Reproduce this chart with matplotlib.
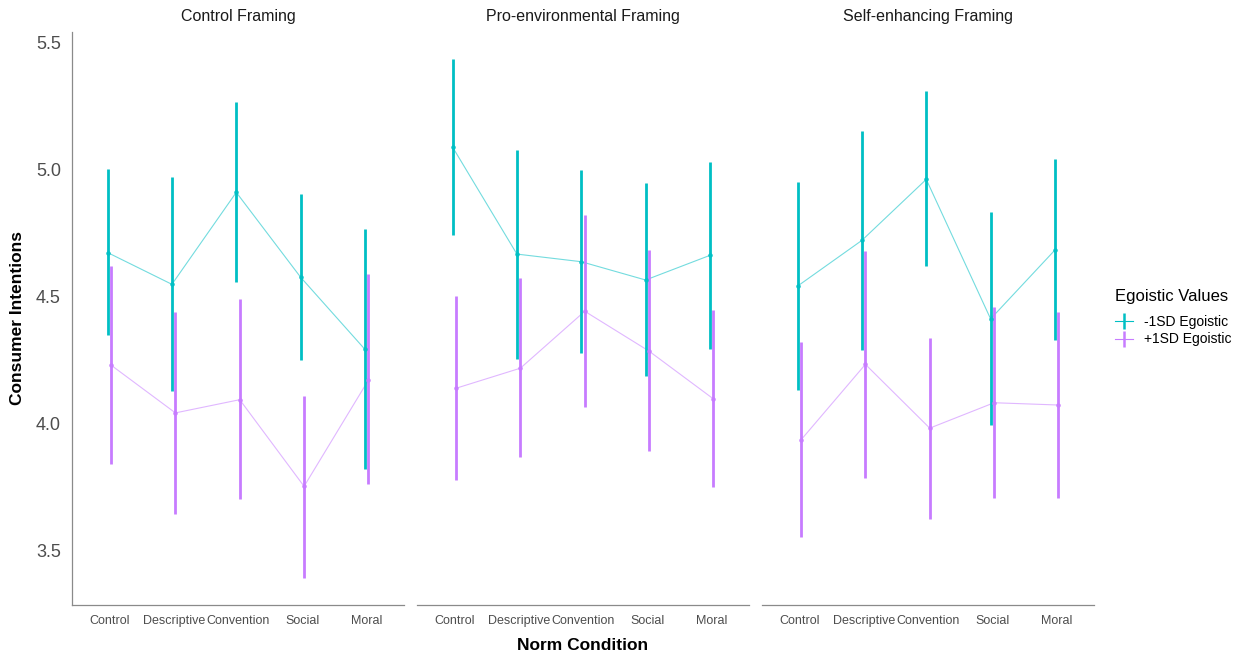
import matplotlib
matplotlib.use("Agg")
import matplotlib.pyplot as plt
from matplotlib.lines import Line2D
import numpy as np

plt.rcParams['font.family'] = ['Liberation Sans', 'DejaVu Sans']

framings = ["Control Framing", "Pro-environmental Framing", "Self-enhancing Framing"]
norms = ["Control", "Descriptive", "Convention", "Social", "Moral"]
groups = ["-1SD Egoistic", "+1SD Egoistic"]
colors = ["#00BFC4", "#C77CFF"]

# -1SD Egoistic: mean, lower, upper per framing
low_mean = [[4.673, 4.548, 4.910, 4.576, 4.292],
            [5.088, 4.667, 4.637, 4.565, 4.662],
            [4.541, 4.721, 4.961, 4.412, 4.683]]
low_lo = [[4.347, 4.128, 4.557, 4.250, 3.822],
          [4.741, 4.256, 4.278, 4.188, 4.293],
          [4.132, 4.290, 4.619, 3.993, 4.327]]
low_hi = [[5.003, 4.971, 5.266, 4.904, 4.764],
          [5.435, 5.077, 4.996, 4.945, 5.029],
          [4.950, 5.152, 5.310, 4.832, 5.043]]

# +1SD Egoistic
high_mean = [[4.230, 4.042, 4.094, 3.753, 4.171],
             [4.139, 4.218, 4.442, 4.285, 4.097],
             [3.936, 4.233, 3.982, 4.082, 4.073]]
high_lo = [[3.842, 3.644, 3.702, 3.392, 3.761],
           [3.777, 3.868, 4.065, 3.891, 3.750],
           [3.553, 3.787, 3.625, 3.706, 3.706]]
high_hi = [[4.622, 4.441, 4.492, 4.109, 4.590],
           [4.504, 4.572, 4.822, 4.682, 4.445],
           [4.321, 4.681, 4.337, 4.457, 4.439]]

means = [low_mean, high_mean]
los = [low_lo, high_lo]
his = [low_hi, high_hi]

W, H = 1243, 656
fig = plt.figure(figsize=(W / 100, H / 100), dpi=100)

left0 = 72
pw = 332
gap = 13
top_px = 32
bot_px = 605
ymin, ymax = 3.286, 5.541
offsets = [-0.027, 0.027]
axcol = "#8a8a8a"

x = np.arange(1, 6)
axes = []
for i, fr in enumerate(framings):
    l = (left0 + i * (pw + gap)) / W
    b = 1 - bot_px / H
    ax = fig.add_axes([l, b, pw / W, (bot_px - top_px) / H])
    axes.append(ax)
    for g in range(2):
        m = np.array(means[g][i])
        lo = np.array(los[g][i])
        hi = np.array(his[g][i])
        xs = x + offsets[g]
        ax.vlines(xs, lo, hi, color=colors[g], lw=2.0, zorder=3)
        ax.plot(xs, m, color=colors[g], lw=0.8, alpha=0.55, zorder=2)
        ax.plot(xs, m, 'o', color=colors[g], ms=2.2, zorder=4)
    ax.set_xlim(0.42, 5.58)
    ax.set_ylim(ymin, ymax)
    ax.set_xticks(x)
    ax.set_xticklabels(norms, fontsize=9, color="#4D4D4D", va="baseline")
    ax.tick_params(axis='x', length=0, pad=14)
    ax.tick_params(axis='y', length=0, pad=8)
    for s in ["top", "right"]:
        ax.spines[s].set_visible(False)
    ax.spines["bottom"].set_color(axcol)
    ax.spines["bottom"].set_linewidth(0.9)
    if i == 0:
        ax.spines["left"].set_color(axcol)
        ax.spines["left"].set_linewidth(0.9)
        ax.set_yticks([3.5, 4.0, 4.5, 5.0, 5.5])
        ax.set_yticklabels(["3.5", "4.0", "4.5", "5.0", "5.5"], fontsize=13, color="#4D4D4D")
    else:
        ax.spines["left"].set_visible(False)
        ax.set_yticks([])
    fig.text(l + pw / W / 2, 1 - 17 / H, fr, ha="center", va="center", fontsize=11.5, color="#1a1a1a")

fig.text(18 / W, 1 - 318 / H, "Consumer Intentions", rotation=90, ha="center", va="center",
         fontsize=12.5, fontweight="bold")
fig.text(583 / W, 1 - 645 / H, "Norm Condition", ha="center", va="center",
         fontsize=12.5, fontweight="bold")

handles = [Line2D([0], [0], color=colors[g], lw=0.8, marker='|', markersize=11,
                  markeredgewidth=1.8) for g in range(2)]
leg = fig.legend(handles, groups, loc="upper left", bbox_to_anchor=(1112 / W, 1 - 286 / H),
                 frameon=False, fontsize=10, title="Egoistic Values", title_fontsize=12,
                 handlelength=1.3, handletextpad=0.8, labelspacing=0.25, borderpad=0.2,
                 borderaxespad=0)
leg._legend_box.align = "left"
leg._legend_box.sep = 8

fig.savefig("out.png", dpi=100)
